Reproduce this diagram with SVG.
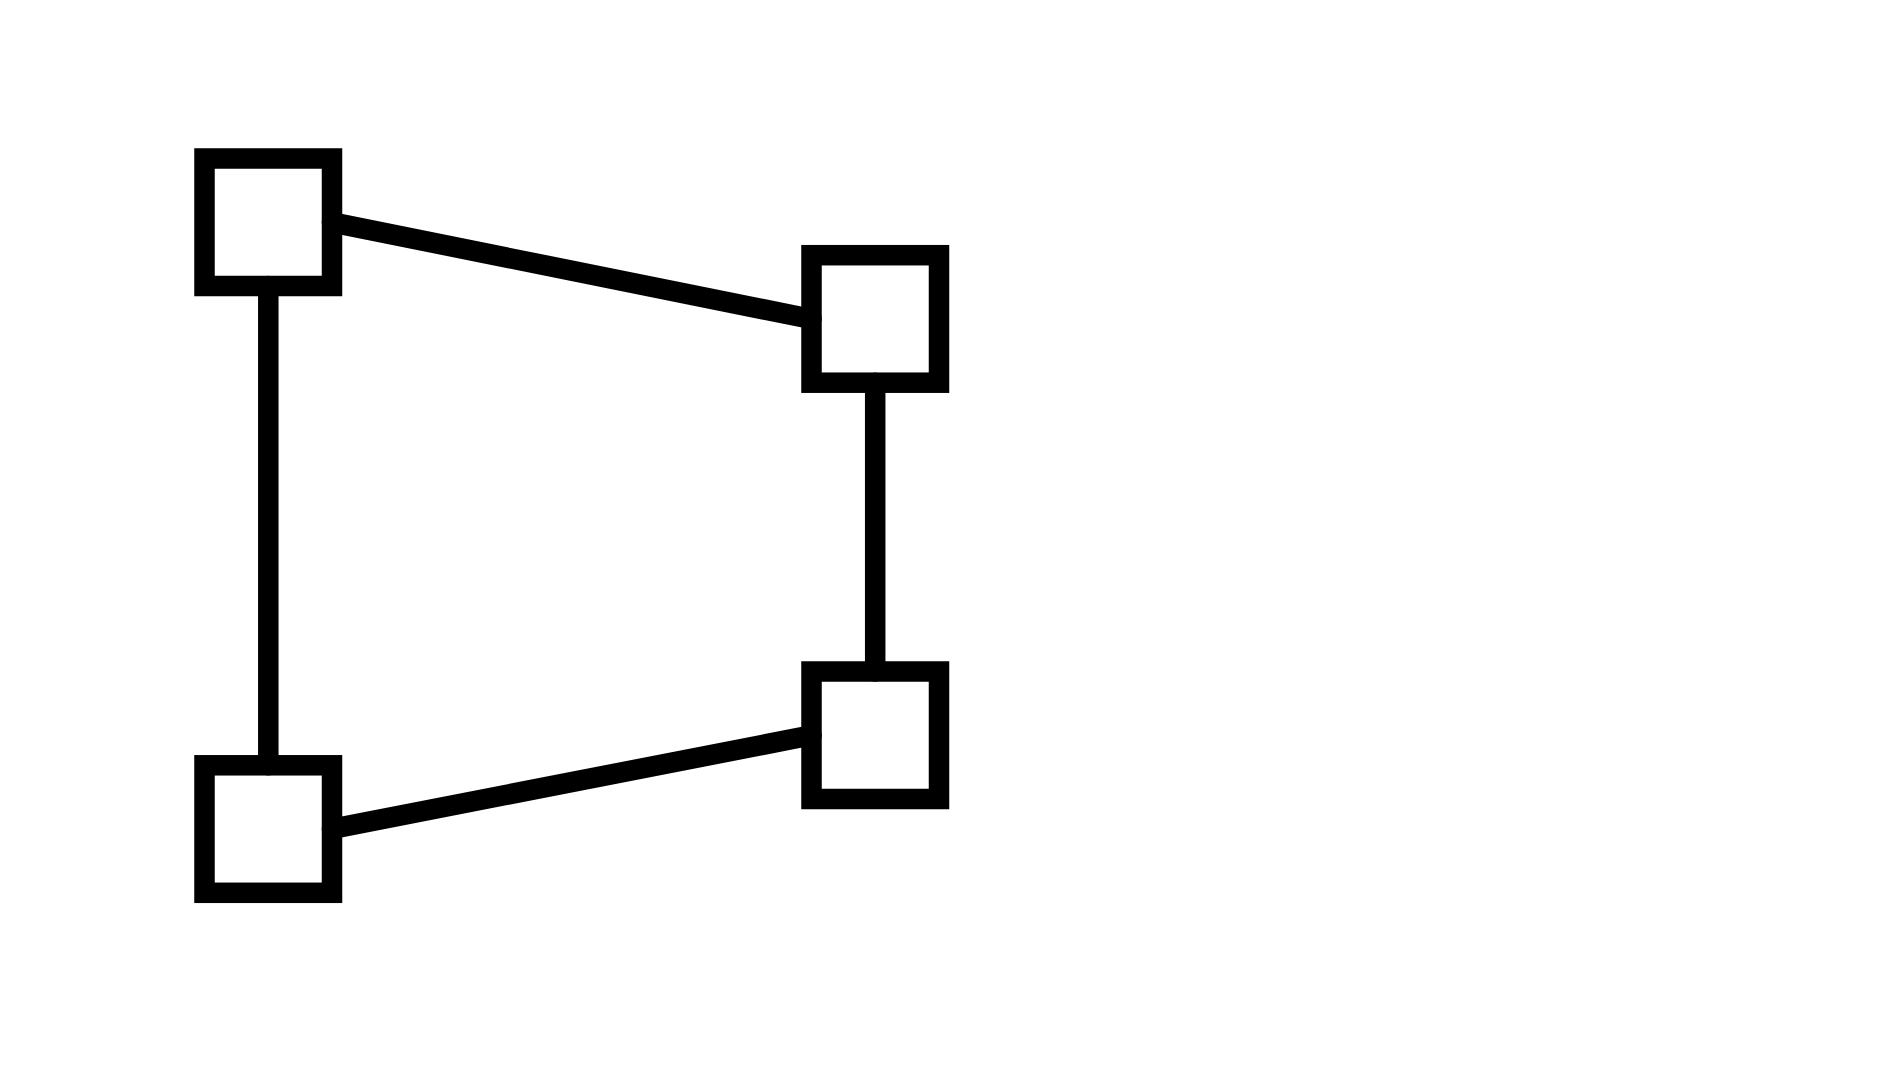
<svg xmlns="http://www.w3.org/2000/svg" width="1897" height="1084" viewBox="0 0 1897 1084">
<style>
.node{fill:none;stroke:#000;stroke-width:20.5}
.edge{fill:none;stroke:#000;stroke-width:20.5;stroke-linecap:round}
</style>
<rect x="0" y="0" width="1897" height="1084" fill="#fff"/>
<g id="connectors">
<line class="edge" x1="332" y1="222.4" x2="811.5" y2="319"/>
<line class="edge" x1="268.3" y1="286" x2="268.3" y2="765.3"/>
<line class="edge" x1="875.2" y1="382.7" x2="875.2" y2="671.5"/>
<line class="edge" x1="332" y1="828.9" x2="811.5" y2="735.3"/>
</g>
<g id="node1"><rect class="node" x="204.5" y="158.5" width="127.5" height="127.5"/></g>
<g id="node2"><rect class="node" x="811.5" y="255.2" width="127.5" height="127.5"/></g>
<g id="node3"><rect class="node" x="204.5" y="765.3" width="127.5" height="127.5"/></g>
<g id="node4"><rect class="node" x="811.5" y="671.5" width="127.5" height="127.5"/></g>
</svg>
